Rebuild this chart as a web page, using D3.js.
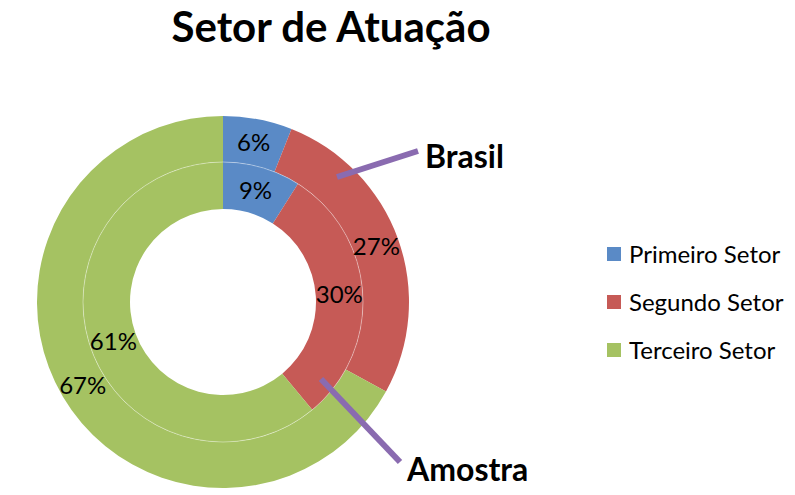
<!DOCTYPE html>
<html>
<head>
<meta charset="utf-8">
<script src="https://cdn.jsdelivr.net/npm/d3@7"></script>
<style>
  body { margin: 0; background: #fff; }
  text { font-family: Lato, "Open Sans", sans-serif; }
</style>
</head>
<body>
<div id="chart-area"></div>
<script>
// categories and the two rings (outer = Brasil, inner = Amostra)
let categories = ["Primeiro Setor", "Segundo Setor", "Terceiro Setor"];
let brasil = [6, 27, 67];
let amostra = [9, 30, 61];
let colors = ["#5A8AC6", "#C65A56", "#A5C262"];

let width = 795, height = 495;
let cx = 223, cy = 302;

let svg = d3.select("#chart-area").append("svg")
	.attr("width", width)
	.attr("height", height)

svg.append("text")
	.attr("x", 331)
	.attr("y", 42)
	.attr("text-anchor", "middle")
	.attr("font-size", 42)
	.attr("font-weight", "bold")
	.text("Setor de Atuação");

let pie = d3.pie().sort(null).value(d => d);
let color = d3.scaleOrdinal().domain(d3.range(3)).range(colors);

let g = svg.append("g").attr("transform", "translate(" + cx + "," + cy + ")");

function drawRing(values, r0, r1) {
	let arc = d3.arc().innerRadius(r0).outerRadius(r1);
	let arcs = pie(values);
	g.selectAll(null)
		.data(arcs)
		.enter().append("path")
		.attr("d", arc)
		.attr("fill", (d, i) => color(i));
	return { arc: arc, arcs: arcs };
}

let outer = drawRing(brasil, 140, 186);
let inner = drawRing(amostra, 93, 140);

// faint border between the rings
g.append("circle")
	.attr("r", 140)
	.attr("fill", "none")
	.attr("stroke", "rgba(255,255,255,0.5)")
	.attr("stroke-width", 0.8);

[outer, inner].forEach(function(ring) {
	g.selectAll(null)
		.data(ring.arcs)
		.enter().append("text")
		.attr("transform", d => "translate(" + ring.arc.centroid(d) + ")")
		.attr("text-anchor", "middle")
		.attr("dy", "0.36em")
		.attr("font-size", 24)
		.attr("fill", "#000")
		.text(d => d.data + "%");
});

// leader lines for ring names
let lines = [
	{ name: "Brasil", x1: 337, y1: 177, x2: 418, y2: 151, tx: 425, ty: 168 },
	{ name: "Amostra", x1: 321, y1: 379, x2: 400, y2: 462, tx: 407, ty: 481 }
];
lines.forEach(function(l) {
	svg.append("line")
		.attr("x1", l.x1).attr("y1", l.y1)
		.attr("x2", l.x2).attr("y2", l.y2)
		.attr("stroke", "#8A6BB0")
		.attr("stroke-width", 6);
	svg.append("text")
		.attr("x", l.tx).attr("y", l.ty)
		.attr("font-size", 32)
		.attr("font-weight", "bold")
		.text(l.name);
});

// legend
let legend = svg.selectAll(".legend")
	.data(categories)
	.enter().append("g")
	.attr("class", "legend")
	.attr("transform", (d, i) => "translate(607," + (254 + i * 48) + ")");

legend.append("rect")
	.attr("x", 0).attr("y", -7)
	.attr("width", 14).attr("height", 14)
	.attr("fill", (d, i) => color(i));

legend.append("text")
	.attr("x", 22)
	.attr("dy", "0.36em")
	.attr("font-size", 24)
	.text(d => d);
</script>
</body>
</html>
